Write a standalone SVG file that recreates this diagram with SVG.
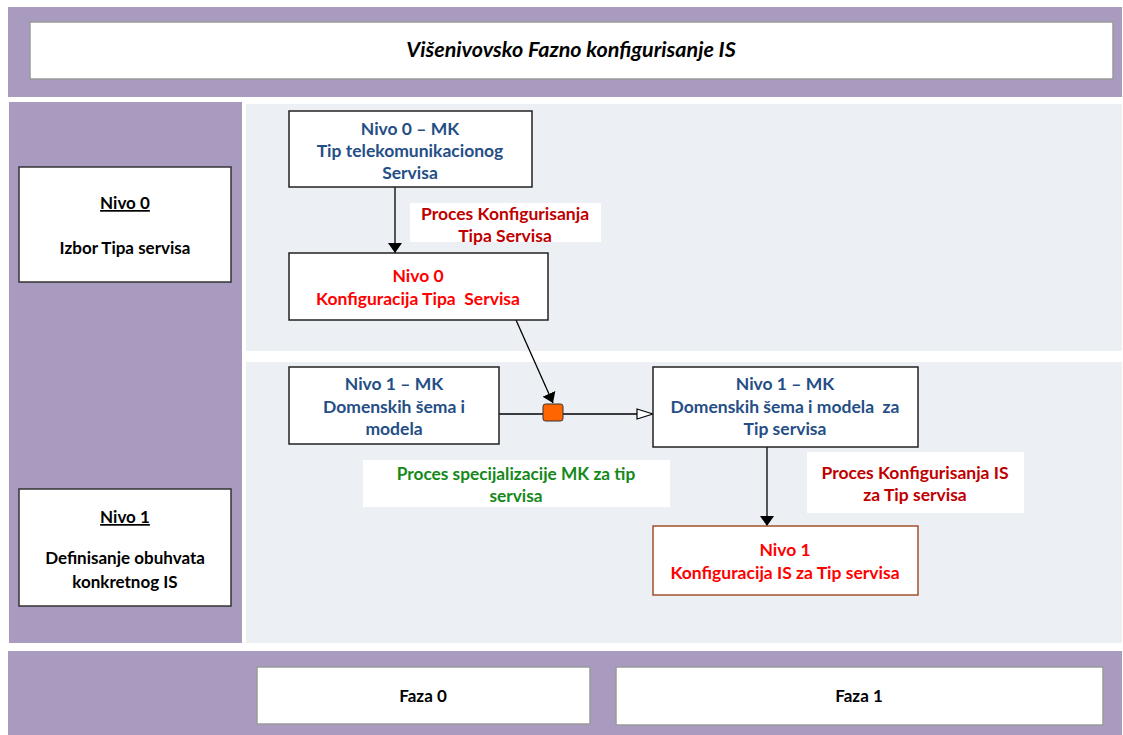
<svg xmlns="http://www.w3.org/2000/svg" width="1123" height="735" viewBox="0 0 1123 735">
<style>
text{font-family:Lato,"Liberation Sans",sans-serif;font-weight:bold;text-anchor:middle}
.band{fill:#A99ABF}
.light{fill:#ECEFF4}
.frame{fill:#fff;stroke:#9a9a9a;stroke-width:1.5}
.lbox{fill:#fff;stroke:#333;stroke-width:1.5}
.node{fill:#fff;stroke:#222;stroke-width:1.5}
.lbl{fill:#fff}
.blue{fill:#254E86;font-size:17.5px}
.red{fill:#FF0000;font-size:17.5px}
.dred{fill:#C00000;font-size:17.5px}
.green{fill:#14891A;font-size:17.3px}
.blk{fill:#000;font-size:17px}
.con{stroke:#000;stroke-width:1.3;fill:none}
</style>
<defs>
<marker id="af" viewBox="0 0 10 14" refX="10" refY="7" markerWidth="10" markerHeight="14" markerUnits="userSpaceOnUse" orient="auto">
<path d="M0,0 L10,7 L0,14 Z" fill="#000"/>
</marker>
<marker id="ah" viewBox="0 0 18 12" refX="17" refY="6" markerWidth="18" markerHeight="12" markerUnits="userSpaceOnUse" orient="auto">
<path d="M1,1 L17,6 L1,11 Z" fill="#fff" stroke="#000" stroke-width="1.2"/>
</marker>
</defs>
<rect width="1123" height="735" fill="#fff"/>
<g id="background">
<rect class="band" x="8" y="7" width="1114" height="90"/>
<rect class="band" x="9" y="102" width="233" height="541"/>
<rect class="light" x="246" y="104" width="876" height="247"/>
<rect class="light" x="246" y="362" width="876" height="281"/>
<rect class="band" x="8" y="651" width="1114" height="84"/>
</g>
<g id="title">
<rect class="frame" x="30" y="22" width="1083" height="57"/>
<text x="571" y="57" style="font-style:italic;font-size:21.5px;fill:#000">Višenivovsko Fazno konfigurisanje IS</text>
</g>
<g id="level0">
<rect class="lbox" x="19" y="167" width="212" height="115"/>
<text class="blk" x="125" y="209" text-decoration="underline">Nivo 0</text>
<text class="blk" x="125" y="254">Izbor Tipa servisa</text>
</g>
<g id="level1">
<rect class="lbox" x="19" y="489" width="212" height="117"/>
<text class="blk" x="125" y="523" text-decoration="underline">Nivo 1</text>
<text class="blk" x="125" y="564">Definisanje obuhvata</text>
<text class="blk" x="125" y="588">konkretnog IS</text>
</g>
<g id="faza0">
<rect class="frame" x="257" y="667" width="333" height="57"/>
<text class="blk" x="423" y="702">Faza 0</text>
</g>
<g id="faza1">
<rect class="frame" x="616" y="667" width="487" height="58"/>
<text class="blk" x="859" y="702">Faza 1</text>
</g>
<g id="connectors">
<line class="con" x1="395" y1="187" x2="395" y2="253" marker-end="url(#af)"/>
<line class="con" x1="516" y1="320" x2="553" y2="403" marker-end="url(#af)"/>
<line class="con" x1="499" y1="414" x2="543" y2="414"/>
<line class="con" x1="563" y1="414" x2="653" y2="414" marker-end="url(#ah)"/>
<line class="con" x1="767" y1="447" x2="767" y2="526" marker-end="url(#af)"/>
</g>
<g id="n0mk">
<rect class="node" x="289" y="111" width="243" height="76"/>
<text class="blue" x="410" y="135">Nivo 0 – MK</text>
<text class="blue" x="410" y="157">Tip telekomunikacionog</text>
<text class="blue" x="410" y="179">Servisa</text>
</g>
<g id="lbl-proces-tipa">
<rect class="lbl" x="410" y="203" width="191" height="39"/>
<text class="dred" x="505" y="220">Proces Konfigurisanja</text>
<text class="dred" x="505" y="242">Tipa Servisa</text>
</g>
<g id="n0k">
<rect class="node" x="289" y="253" width="259" height="67"/>
<text class="red" x="418" y="282">Nivo 0</text>
<text class="red" x="418" y="305" xml:space="preserve">Konfiguracija Tipa  Servisa</text>
</g>
<g id="n1mk">
<rect class="node" x="289" y="367" width="210" height="77"/>
<text class="blue" x="394" y="390">Nivo 1 – MK</text>
<text class="blue" x="394" y="413">Domenskih šema i</text>
<text class="blue" x="394" y="435">modela</text>
</g>
<g id="spec">
<rect x="543" y="404" width="20" height="17" rx="2.5" fill="#FF6600" stroke="#333" stroke-width="1"/>
</g>
<g id="lbl-spec">
<rect class="lbl" x="363" y="460" width="307" height="47"/>
<text class="green" x="516" y="480">Proces specijalizacije MK za tip</text>
<text class="green" x="516" y="502">servisa</text>
</g>
<g id="n1mkt">
<rect class="node" x="653" y="367" width="265" height="80"/>
<text class="blue" x="785" y="390">Nivo 1 – MK</text>
<text class="blue" x="785" y="413" xml:space="preserve">Domenskih šema i modela  za</text>
<text class="blue" x="785" y="435">Tip servisa</text>
</g>
<g id="lbl-proces-is">
<rect class="lbl" x="807" y="452" width="217" height="61"/>
<text class="dred" x="915" y="479">Proces Konfigurisanja IS</text>
<text class="dred" x="915" y="501">za Tip servisa</text>
</g>
<g id="n1k">
<rect x="653" y="526" width="265" height="69" fill="#fff" stroke="#A0522D" stroke-width="1.5"/>
<text class="red" x="785" y="556">Nivo 1</text>
<text class="red" x="785" y="579">Konfiguracija IS za Tip servisa</text>
</g>
</svg>
